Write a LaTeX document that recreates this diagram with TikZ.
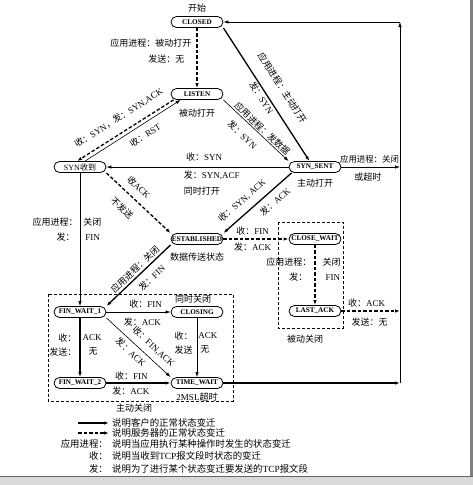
\documentclass[tikz,border=0pt]{standalone}
\usepackage{fontspec}
\setmainfont{Liberation Serif}
\newfontfamily\cjk{Noto Sans CJK SC}
\usetikzlibrary{arrows.meta,positioning}
\newcommand{\zh}[1]{{\cjk #1}}
\newcommand{\labelFont}{\fontsize{9}{10}\selectfont}
\newcommand{\smallLabelFont}{\fontsize{8.4}{10}\selectfont}
\newcommand{\legendFont}{\fontsize{9.4}{10}\selectfont}
\newcommand{\stateFont}{\fontsize{7.2}{8}\selectfont\bfseries}
\tikzstyle{stateNode} = [draw, line width=.8pt, rounded corners=5.5pt, minimum width=52pt, minimum height=11pt, inner sep=0pt, font=\stateFont]
\tikzstyle{clientLine} = [->, line width=1.3pt]
\tikzstyle{serverLine} = [->, line width=1.3pt, dash pattern=on 3.5pt off 2pt]
\tikzstyle{plainLine} = [->, line width=.6pt]
\tikzstyle{edgeText} = [font=\labelFont, inner sep=1pt]
\tikzstyle{caption} = [font=\labelFont, inner sep=1pt]
\tikzstyle{legendText} = [font=\legendFont, inner sep=3pt]
\tikzstyle{groupBox} = [line width=.6pt, dash pattern=on 3pt off 2pt]
\newcommand{\stateBox}[3]{\node [stateNode] (#1) at (#2) {#3};}

\begin{document}
\begin{tikzpicture}[x=1pt, y=-1pt, >={Latex[length=5pt,width=3.4pt]}, every node/.append style={edgeText}]
  \useasboundingbox (0,0) rectangle (473,485);
  % states
  \stateBox{closed}{197,22}{CLOSED}
  \stateBox{listen}{197,94}{LISTEN}
  \stateBox{synRcvd}{80,167}{\mdseries\fontsize{8}{9}\selectfont SYN\zh{收到}}
  \stateBox{synSent}{315,167}{SYN\_SENT}
  \stateBox{established}{197,239}{ESTABLISHED}
  \stateBox{closeWait}{315,239}{CLOSE\_WAIT}
  \stateBox{lastAck}{315,311}{LAST\_ACK}
  \stateBox{finWait1}{80,312}{FIN\_WAIT\_1}
  \stateBox{closing}{197,312}{CLOSING}
  \stateBox{finWait2}{80,383}{FIN\_WAIT\_2}
  \stateBox{timeWait}{197,383}{TIME\_WAIT}

  \coordinate (retTop) at (400,22);
  \coordinate (retSent) at (400,167);
  \coordinate (retLast) at (400,311);
  \coordinate (retTime) at (400,383);

  % captions
  \node [caption, above=3pt of closed] (startText) {\zh{开始}};
  \node [caption, below=8pt of listen] (passiveOpen) {\zh{被动打开}};
  \node [caption, below=4.5pt of synSent] (activeOpen) {\zh{主动打开}};
  \node [caption, below=7pt of established] (dataState) {\zh{数据传送状态}};
  \node [caption, above=2pt of closing, xshift=-4pt] (simClose) {\zh{同时关闭}};
  \node [caption, below=3pt of timeWait] (mslText) {2MSL\zh{超时}};

  \draw [groupBox] (48,294) rectangle (233,401);
  \node [caption] (activeClose) at (134,408) {\zh{主动关闭}};
  \draw [groupBox] (278,222) rectangle (343,328);
  \node [caption] (passiveClose) at (305,339) {\zh{被动关闭}};

  % client
  \draw [clientLine] (closed.south east) -- ([xshift=-5.5pt]synSent.north)
    node [pos=.52, sloped, above=11pt] (lblA1) {\zh{应用进程：主动打开}}
    node [pos=.5, sloped, below=0pt] (lblA2) {\zh{发：}SYN};
  \draw [clientLine] ([xshift=3pt]synSent.south west) -- (established.north east)
    node [pos=.61, sloped, above=6pt] (lblB1) {\zh{收：}SYN, ACK}
    node [pos=.35, sloped, below=5pt] (lblB2) {\zh{发：}ACK};
  \draw [clientLine] (established.south west) -- (finWait1.north east)
    node [pos=.48, sloped, above=1pt] (lblC1) {\zh{应用进程：关闭}}
    node [pos=.41, sloped, below=5pt] (lblC2) {\zh{发：}FIN};
  \draw [clientLine] (finWait1) -- (finWait2)
    node [pos=.34, left=2pt] (lblD1) {\zh{收：}}
    node [pos=.34, right=1pt] (lblD2) {ACK}
    node [pos=.57, left=2pt] (lblD3) {\zh{发送：}}
    node [pos=.57, right=7pt] (lblD4) {\zh{无}};
  \draw [clientLine] (finWait2) -- (timeWait)
    node [pos=.39, above=1.5pt] (lblE1) {\zh{收：}FIN}
    node [pos=.38, below=2pt] (lblE2) {\zh{发：}ACK};
  \draw [clientLine] (timeWait) -- (retTime);

  % server
  \draw [serverLine] (closed) -- (listen)
    node [pos=.26, left=4pt] (lblF1) {\zh{应用进程：被动打开}}
    node [pos=.52, left=11pt] (lblF2) {\zh{发送：无}};
  \draw [serverLine] ([xshift=3pt]listen.south west) -- ([xshift=-3pt]synRcvd.north)
    node [pos=.49, sloped, above=8pt] (lblG1) {\zh{收：}SYN\zh{，发：}SYN,ACK};
  \draw [serverLine] (synRcvd.south east) -- (established.north west)
    node [pos=.38, sloped, above=6pt] (lblH1) {\zh{收}ACK}
    node [pos=.40, sloped, below=9pt] (lblH2) {\zh{不发送}};
  \draw [serverLine] (established) -- (closeWait)
    node [pos=.45, above=2pt] (lblI1) {\zh{收：}FIN}
    node [pos=.45, below=2pt] (lblI2) {\zh{发：}ACK};
  \draw [serverLine] (closeWait) -- (lastAck)
    node [pos=.28, left=2pt] (lblJ1) {\zh{应用进程：}}
    node [pos=.28, right=6pt] (lblJ2) {\zh{关闭}}
    node [pos=.54, left=6pt] (lblJ3) {\zh{发：}}
    node [pos=.54, right=9pt] (lblJ4) {FIN};
  \draw [serverLine] (lastAck) -- (retLast)
    node [pos=.43, above=2pt] (lblK1) {\zh{收：}ACK}
    node [pos=.48, below=5pt] (lblK2) {\zh{发送：无}};

  % other transitions
  \draw [plainLine] ([xshift=5pt]synRcvd.north) -- ([xshift=10pt]listen.south west)
    node [pos=.57, sloped, below=5pt] (lblL1) {\zh{收：}RST};
  \draw [plainLine] (listen.south east) -- (synSent.north west)
    node [pos=.54, sloped, above=0pt] (lblM1) {\zh{应用进程：发数据}}
    node [pos=.42, sloped, below=7pt] (lblM2) {\zh{发：}SYN};
  \draw [plainLine] (synSent) -- (synRcvd)
    node [pos=.57, right, yshift=10pt] (lblN1) {\zh{收：}SYN}
    node [pos=.582, right, yshift=-8pt] (lblN2) {\zh{发：}SYN,ACF}
    node [pos=.582, right, yshift=-24pt] (lblN3) {\zh{同时打开}};
  \draw [plainLine] (synSent) -- (retSent)
    node [pos=.48, above=2pt, font=\smallLabelFont] (lblO1) {\zh{应用进程：关闭}}
    node [pos=.45, below=5pt] (lblO2) {\zh{或超时}};
  \draw [plainLine] (synRcvd) -- (finWait1)
    node [pos=.37, left=1pt] (lblP1) {\zh{应用进程：}}
    node [pos=.37, right=2pt] (lblP2) {\zh{关闭}}
    node [pos=.485, left=4pt] (lblP3) {\zh{发：}}
    node [pos=.485, right=4pt] (lblP4) {FIN};
  \draw [plainLine] (finWait1) -- (closing)
    node [pos=.61, above=2pt] (lblQ1) {\zh{收：}FIN}
    node [pos=.56, below=5pt] (lblQ2) {\zh{发：}ACK};
  \draw [plainLine] (finWait1.south east) -- (timeWait.north west)
    node [pos=.62, sloped, above=5pt] (lblR1) {\zh{收：}FIN,ACK}
    node [pos=.47, sloped, below=3pt] (lblR2) {\zh{发：}ACK};
  \draw [plainLine] (closing) -- (timeWait)
    node [pos=.3, left=3pt] (lblS1) {\zh{收：}}
    node [pos=.3, right=0pt] (lblS2) {ACK}
    node [pos=.54, left=3pt] (lblS3) {\zh{发送}}
    node [pos=.54, right=2pt] (lblS4) {\zh{无}};
  \draw [plainLine] (retTime) -- (retTop);
  \draw [plainLine] (retTop) -- (closed);

  % legend
  \node [legendText, anchor=west] (legClient) at (109,423) {\zh{说明客户的正常状态变迁}};
  \node [legendText, anchor=west] (legServer) at (109,433) {\zh{说明服务器的正常状态变迁}};
  \node [legendText, anchor=east] (keyApp) at (111,444) {\zh{应用进程：}};
  \node [legendText, anchor=west] (legApp) at (109,444) {\zh{说明当应用执行某种操作时发生的状态变迁}};
  \node [legendText, anchor=east] (keyRecv) at (111,456) {\zh{收：}};
  \node [legendText, anchor=west] (legRecv) at (109,456) {\zh{说明当收到}TCP\zh{报文段时状态的变迁}};
  \node [legendText, anchor=east] (keySend) at (111,469) {\zh{发：}};
  \node [legendText, anchor=west] (legSend) at (109,469) {\zh{说明为了进行某个状态变迁要发送的}TCP\zh{报文段}};
  \coordinate (legClientTail) at (78,423);
  \coordinate (legServerTail) at (78,433);
  \draw [clientLine] (legClientTail) -- (legClient);
  \draw [serverLine] (legServerTail) -- (legServer);

  % frame edge
  \fill [black!15] (0,476) rectangle (473,485);
  \draw [black!60, line width=1pt] (0,476) -- (473,476);
  \fill [black!50] (470,0) rectangle (473,476);
\end{tikzpicture}
\end{document}
